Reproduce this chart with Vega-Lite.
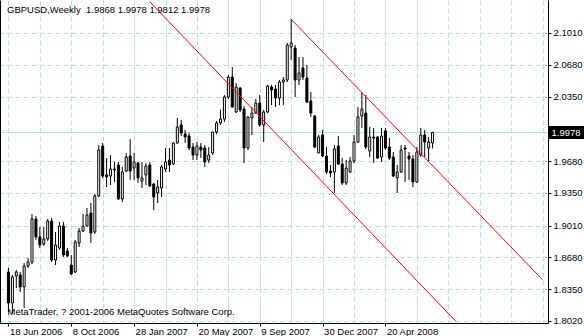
{
  "$schema": "https://vega.github.io/schema/vega-lite/v6.json",
  "width": 548,
  "height": 323,
  "autosize": {"type": "none"},
  "padding": {"left": 0, "top": 0, "right": 36, "bottom": 13},
  "background": "white",
  "config": {"view": {"stroke": null}, "font": "Liberation Sans"},
  "title": {"text": "GBPUSD,Weekly\u00a0 1.9868 1.9978 1.9812 1.9978", "anchor": "start", "frame": "group", "offset": -14, "baseline": "alphabetic", "dx": 7, "dy": 8, "font": "Liberation Sans", "fontSize": 9.5, "fontWeight": "normal", "color": "black"},
  "datasets": {
    "candles": [
      {"d": "2006-06-18", "o": 1.8529, "h": 1.8570, "l": 1.8113, "c": 1.8207},
      {"d": "2006-06-25", "o": 1.8207, "h": 1.8498, "l": 1.8093, "c": 1.8477},
      {"d": "2006-07-02", "o": 1.8487, "h": 1.8549, "l": 1.8363, "c": 1.8529},
      {"d": "2006-07-09", "o": 1.8498, "h": 1.8529, "l": 1.8321, "c": 1.8373},
      {"d": "2006-07-16", "o": 1.8373, "h": 1.8622, "l": 1.8155, "c": 1.8591},
      {"d": "2006-07-23", "o": 1.8591, "h": 1.8674, "l": 1.8570, "c": 1.8633},
      {"d": "2006-07-30", "o": 1.8633, "h": 1.9131, "l": 1.8612, "c": 1.9079},
      {"d": "2006-08-06", "o": 1.9079, "h": 1.9110, "l": 1.8861, "c": 1.8892},
      {"d": "2006-08-13", "o": 1.8892, "h": 1.8996, "l": 1.8778, "c": 1.8809},
      {"d": "2006-08-20", "o": 1.8819, "h": 1.8996, "l": 1.8799, "c": 1.8871},
      {"d": "2006-08-27", "o": 1.8871, "h": 1.9079, "l": 1.8851, "c": 1.9058},
      {"d": "2006-09-03", "o": 1.9058, "h": 1.9089, "l": 1.8633, "c": 1.8653},
      {"d": "2006-09-10", "o": 1.8653, "h": 1.8944, "l": 1.8601, "c": 1.8809},
      {"d": "2006-09-17", "o": 1.8778, "h": 1.9048, "l": 1.8757, "c": 1.9006},
      {"d": "2006-09-24", "o": 1.9006, "h": 1.9048, "l": 1.8684, "c": 1.8705},
      {"d": "2006-10-01", "o": 1.8747, "h": 1.8778, "l": 1.8684, "c": 1.8695},
      {"d": "2006-10-08", "o": 1.8601, "h": 1.8705, "l": 1.8498, "c": 1.8508},
      {"d": "2006-10-15", "o": 1.8529, "h": 1.8861, "l": 1.8518, "c": 1.8840},
      {"d": "2006-10-22", "o": 1.8830, "h": 1.8986, "l": 1.8788, "c": 1.8954},
      {"d": "2006-10-29", "o": 1.8954, "h": 1.9131, "l": 1.8944, "c": 1.9006},
      {"d": "2006-11-05", "o": 1.9006, "h": 1.9193, "l": 1.9006, "c": 1.9120},
      {"d": "2006-11-12", "o": 1.9141, "h": 1.9245, "l": 1.8830, "c": 1.8934},
      {"d": "2006-11-19", "o": 1.8944, "h": 1.9338, "l": 1.8923, "c": 1.9318},
      {"d": "2006-11-26", "o": 1.9318, "h": 1.9847, "l": 1.9307, "c": 1.9795},
      {"d": "2006-12-03", "o": 1.9837, "h": 1.9868, "l": 1.9505, "c": 1.9525},
      {"d": "2006-12-10", "o": 1.9536, "h": 1.9712, "l": 1.9411, "c": 1.9515},
      {"d": "2006-12-17", "o": 1.9525, "h": 1.9743, "l": 1.9432, "c": 1.9598},
      {"d": "2006-12-24", "o": 1.9598, "h": 1.9671, "l": 1.9463, "c": 1.9588},
      {"d": "2006-12-31", "o": 1.9640, "h": 1.9671, "l": 1.9276, "c": 1.9287},
      {"d": "2007-01-07", "o": 1.9287, "h": 1.9619, "l": 1.9255, "c": 1.9567},
      {"d": "2007-01-14", "o": 1.9577, "h": 1.9764, "l": 1.9567, "c": 1.9723},
      {"d": "2007-01-21", "o": 1.9733, "h": 1.9910, "l": 1.9484, "c": 1.9577},
      {"d": "2007-01-28", "o": 1.9608, "h": 1.9764, "l": 1.9484, "c": 1.9671},
      {"d": "2007-02-04", "o": 1.9660, "h": 1.9671, "l": 1.9453, "c": 1.9505},
      {"d": "2007-02-11", "o": 1.9473, "h": 1.9671, "l": 1.9401, "c": 1.9505},
      {"d": "2007-02-18", "o": 1.9536, "h": 1.9660, "l": 1.9432, "c": 1.9629},
      {"d": "2007-02-25", "o": 1.9640, "h": 1.9671, "l": 1.9411, "c": 1.9422},
      {"d": "2007-03-04", "o": 1.9442, "h": 1.9453, "l": 1.9172, "c": 1.9307},
      {"d": "2007-03-11", "o": 1.9349, "h": 1.9484, "l": 1.9245, "c": 1.9411},
      {"d": "2007-03-18", "o": 1.9401, "h": 1.9640, "l": 1.9307, "c": 1.9619},
      {"d": "2007-03-25", "o": 1.9598, "h": 1.9816, "l": 1.9567, "c": 1.9671},
      {"d": "2007-04-01", "o": 1.9691, "h": 1.9816, "l": 1.9567, "c": 1.9640},
      {"d": "2007-04-08", "o": 1.9650, "h": 1.9878, "l": 1.9640, "c": 1.9868},
      {"d": "2007-04-15", "o": 1.9868, "h": 2.0128, "l": 1.9858, "c": 2.0034},
      {"d": "2007-04-22", "o": 2.0055, "h": 2.0107, "l": 1.9941, "c": 1.9972},
      {"d": "2007-04-29", "o": 1.9961, "h": 2.0003, "l": 1.9868, "c": 1.9930},
      {"d": "2007-05-06", "o": 1.9941, "h": 1.9972, "l": 1.9795, "c": 1.9816},
      {"d": "2007-05-13", "o": 1.9826, "h": 1.9868, "l": 1.9691, "c": 1.9743},
      {"d": "2007-05-20", "o": 1.9743, "h": 1.9878, "l": 1.9691, "c": 1.9837},
      {"d": "2007-05-27", "o": 1.9826, "h": 1.9868, "l": 1.9712, "c": 1.9795},
      {"d": "2007-06-03", "o": 1.9816, "h": 1.9847, "l": 1.9619, "c": 1.9671},
      {"d": "2007-06-10", "o": 1.9691, "h": 1.9826, "l": 1.9660, "c": 1.9743},
      {"d": "2007-06-17", "o": 1.9764, "h": 1.9982, "l": 1.9743, "c": 1.9982},
      {"d": "2007-06-24", "o": 1.9982, "h": 2.0096, "l": 1.9961, "c": 2.0076},
      {"d": "2007-07-01", "o": 2.0076, "h": 2.0211, "l": 2.0055, "c": 2.0117},
      {"d": "2007-07-08", "o": 2.0117, "h": 2.0366, "l": 2.0086, "c": 2.0346},
      {"d": "2007-07-15", "o": 2.0346, "h": 2.0574, "l": 2.0325, "c": 2.0553},
      {"d": "2007-07-22", "o": 2.0553, "h": 2.0657, "l": 2.0231, "c": 2.0242},
      {"d": "2007-07-29", "o": 2.0190, "h": 2.0491, "l": 2.0179, "c": 2.0449},
      {"d": "2007-08-05", "o": 2.0439, "h": 2.0449, "l": 2.0190, "c": 2.0211},
      {"d": "2007-08-12", "o": 2.0221, "h": 2.0252, "l": 1.9660, "c": 1.9816},
      {"d": "2007-08-19", "o": 1.9816, "h": 2.0148, "l": 1.9795, "c": 2.0138},
      {"d": "2007-08-26", "o": 2.0128, "h": 2.0242, "l": 1.9951, "c": 2.0179},
      {"d": "2007-09-02", "o": 2.0179, "h": 2.0325, "l": 2.0169, "c": 2.0283},
      {"d": "2007-09-09", "o": 2.0283, "h": 2.0366, "l": 2.0034, "c": 2.0055},
      {"d": "2007-09-16", "o": 2.0055, "h": 2.0211, "l": 1.9878, "c": 2.0190},
      {"d": "2007-09-23", "o": 2.0190, "h": 2.0470, "l": 2.0179, "c": 2.0460},
      {"d": "2007-09-30", "o": 2.0449, "h": 2.0470, "l": 2.0262, "c": 2.0418},
      {"d": "2007-10-07", "o": 2.0429, "h": 2.0470, "l": 2.0242, "c": 2.0335},
      {"d": "2007-10-14", "o": 2.0335, "h": 2.0522, "l": 2.0262, "c": 2.0501},
      {"d": "2007-10-21", "o": 2.0501, "h": 2.0553, "l": 2.0262, "c": 2.0522},
      {"d": "2007-10-28", "o": 2.0522, "h": 2.0906, "l": 2.0501, "c": 2.0885},
      {"d": "2007-11-04", "o": 2.0865, "h": 2.1152, "l": 2.0730, "c": 2.0906},
      {"d": "2007-11-11", "o": 2.0854, "h": 2.0885, "l": 2.0346, "c": 2.0522},
      {"d": "2007-11-18", "o": 2.0522, "h": 2.0761, "l": 2.0470, "c": 2.0595},
      {"d": "2007-11-25", "o": 2.0647, "h": 2.0761, "l": 2.0522, "c": 2.0553},
      {"d": "2007-12-02", "o": 2.0543, "h": 2.0678, "l": 2.0283, "c": 2.0294},
      {"d": "2007-12-09", "o": 2.0304, "h": 2.0398, "l": 2.0138, "c": 2.0179},
      {"d": "2007-12-16", "o": 2.0148, "h": 2.0159, "l": 1.9816, "c": 1.9826},
      {"d": "2007-12-23", "o": 1.9764, "h": 1.9951, "l": 1.9764, "c": 1.9930},
      {"d": "2007-12-30", "o": 1.9951, "h": 2.0003, "l": 1.9723, "c": 1.9733},
      {"d": "2008-01-06", "o": 1.9733, "h": 1.9826, "l": 1.9546, "c": 1.9567},
      {"d": "2008-01-13", "o": 1.9577, "h": 1.9640, "l": 1.9515, "c": 1.9557},
      {"d": "2008-01-20", "o": 1.9567, "h": 1.9847, "l": 1.9349, "c": 1.9806},
      {"d": "2008-01-27", "o": 1.9837, "h": 1.9941, "l": 1.9640, "c": 1.9650},
      {"d": "2008-02-03", "o": 1.9650, "h": 1.9712, "l": 1.9432, "c": 1.9453},
      {"d": "2008-02-10", "o": 1.9453, "h": 1.9691, "l": 1.9432, "c": 1.9608},
      {"d": "2008-02-17", "o": 1.9567, "h": 1.9723, "l": 1.9557, "c": 1.9681},
      {"d": "2008-02-24", "o": 1.9681, "h": 1.9951, "l": 1.9660, "c": 1.9878},
      {"d": "2008-03-02", "o": 1.9878, "h": 2.0242, "l": 1.9868, "c": 2.0138},
      {"d": "2008-03-09", "o": 2.0148, "h": 2.0394, "l": 2.0024, "c": 2.0221},
      {"d": "2008-03-16", "o": 2.0179, "h": 2.0366, "l": 1.9806, "c": 1.9826},
      {"d": "2008-03-23", "o": 1.9785, "h": 2.0034, "l": 1.9723, "c": 1.9930},
      {"d": "2008-03-30", "o": 1.9930, "h": 2.0024, "l": 1.9660, "c": 1.9920},
      {"d": "2008-04-06", "o": 1.9930, "h": 1.9941, "l": 1.9702, "c": 1.9712},
      {"d": "2008-04-13", "o": 1.9723, "h": 2.0024, "l": 1.9671, "c": 1.9941},
      {"d": "2008-04-20", "o": 1.9993, "h": 2.0024, "l": 1.9795, "c": 1.9816},
      {"d": "2008-04-27", "o": 1.9826, "h": 1.9920, "l": 1.9691, "c": 1.9712},
      {"d": "2008-05-04", "o": 1.9723, "h": 1.9774, "l": 1.9515, "c": 1.9525},
      {"d": "2008-05-11", "o": 1.9505, "h": 1.9640, "l": 1.9349, "c": 1.9567},
      {"d": "2008-05-18", "o": 1.9567, "h": 1.9847, "l": 1.9557, "c": 1.9795},
      {"d": "2008-05-25", "o": 1.9816, "h": 1.9847, "l": 1.9463, "c": 1.9806},
      {"d": "2008-06-01", "o": 1.9733, "h": 1.9774, "l": 1.9484, "c": 1.9702},
      {"d": "2008-06-08", "o": 1.9702, "h": 1.9743, "l": 1.9411, "c": 1.9463},
      {"d": "2008-06-15", "o": 1.9463, "h": 1.9826, "l": 1.9453, "c": 1.9774},
      {"d": "2008-06-22", "o": 1.9743, "h": 2.0024, "l": 1.9723, "c": 1.9951},
      {"d": "2008-06-29", "o": 1.9951, "h": 2.0003, "l": 1.9723, "c": 1.9878},
      {"d": "2008-07-06", "o": 1.9816, "h": 1.9930, "l": 1.9681, "c": 1.9878},
      {"d": "2008-07-13", "o": 1.9868, "h": 1.9978, "l": 1.9812, "c": 1.9978}
    ],
    "channel": [
      {"d": "2007-02-25", "p": 2.1334, "g": "lower"},
      {"d": "2008-08-24", "p": 1.8014, "g": "lower"},
      {"d": "2007-11-04", "p": 2.1152, "g": "upper"},
      {"d": "2009-01-25", "p": 1.8449, "g": "upper"}
    ]
  },
  "encoding": {
    "x": {
      "field": "d",
      "type": "temporal",
      "scale": {"type": "utc", "domain": [1150059600000, 1232917200000]},
      "axis": {
        "values": [1150588800000, 1155427200000, 1160265600000, 1165104000000, 1169942400000, 1174780800000, 1179619200000, 1184457600000, 1189296000000, 1194134400000, 1198972800000, 1203811200000, 1208649600000, 1213488000000, 1218326400000, 1223164800000, 1228003200000, 1232841600000],
        "labelExpr": "((datum.value - 1150588800000) % 9676800000 == 0 && datum.value <= 1208649600000) ? utcFormat(datum.value, '%-d %b %Y') : ''",
        "labelAlign": "left",
        "labelBaseline": "alphabetic",
        "labelPadding": 8,
        "labelOffset": 1,
        "labelFlush": false,
        "labelOverlap": false,
        "labelFont": "Liberation Sans",
        "labelFontSize": 9.5,
        "labelColor": "black",
        "tickColor": "black",
        "tickSize": 3,
        "tickOpacity": {"condition": {"test": "(datum.value - 1150588800000) % 9676800000 == 0 && datum.value <= 1208649600000", "value": 1}, "value": 0},
        "grid": true,
        "gridColor": "#b4e2de",
        "gridDash": [5, 3],
        "domainColor": "black",
        "title": "MetaTrader, ? 2001-2006 MetaQuotes Software Corp.",
        "titleAnchor": "start",
        "titleAlign": "left",
        "titleBaseline": "alphabetic",
        "titleX": 7,
        "titleY": -9,
        "titleFont": "Liberation Sans",
        "titleFontSize": 9.5,
        "titleFontWeight": "normal",
        "titleColor": "black"
      }
    }
  },
  "layer": [
    {
      "data": {"name": "candles"},
      "mark": {"type": "rule", "color": "black", "strokeWidth": 1},
      "encoding": {
        "y": {
          "field": "l",
          "type": "quantitative",
          "scale": {"domain": [1.79992, 2.13526], "nice": false, "zero": false},
          "axis": {
            "orient": "right",
            "values": [1.802, 1.835, 1.868, 1.901, 1.935, 1.968, 1.9978, 2.035, 2.068, 2.101],
            "format": ".4f",
            "labelFont": "Liberation Sans",
            "labelFontSize": 9.5,
            "labelAlign": "left",
            "labelBaseline": "middle",
            "labelPadding": {"condition": {"test": "datum.value == 1.9978", "value": -33}, "value": 2},
            "labelFlush": false,
            "labelOverlap": false,
            "labelColor": {"condition": {"test": "datum.value == 1.9978", "value": "white"}, "value": "black"},
            "tickColor": "black",
            "tickSize": {"condition": {"test": "datum.value == 1.9978", "value": 36}, "value": 3},
            "tickWidth": {"condition": {"test": "datum.value == 1.9978", "value": 13}, "value": 1},
            "domainColor": "black",
            "grid": true,
            "gridColor": {"condition": {"test": "datum.value == 1.9978", "value": "#a4e8e8"}, "value": "#b4e2de"},
            "gridDash": {"condition": {"test": "datum.value == 1.9978", "value": []}, "value": [5, 3]},
            "title": null
          }
        },
        "y2": {"field": "h"}
      }
    },
    {
      "data": {"name": "candles"},
      "mark": {"type": "bar", "size": 2, "stroke": "black", "strokeWidth": 1},
      "encoding": {
        "y": {"field": "o", "type": "quantitative", "scale": {"domain": [1.79992, 2.13526], "nice": false, "zero": false}, "axis": null},
        "y2": {"field": "c"},
        "fill": {"condition": {"test": "datum.c >= datum.o", "value": "white"}, "value": "black"}
      }
    },
    {
      "data": {"name": "channel"},
      "mark": {"type": "line", "color": "red", "strokeWidth": 1, "clip": true},
      "encoding": {
        "y": {
          "field": "p",
          "type": "quantitative",
          "scale": {"domain": [1.79992, 2.13526], "nice": false, "zero": false},
          "axis": {"orient": "left", "labels": false, "ticks": false, "grid": false, "domain": true, "domainColor": "black", "title": null}
        },
        "detail": {"field": "g"}
      }
    }
  ],
  "resolve": {"axis": {"y": "independent"}}
}
